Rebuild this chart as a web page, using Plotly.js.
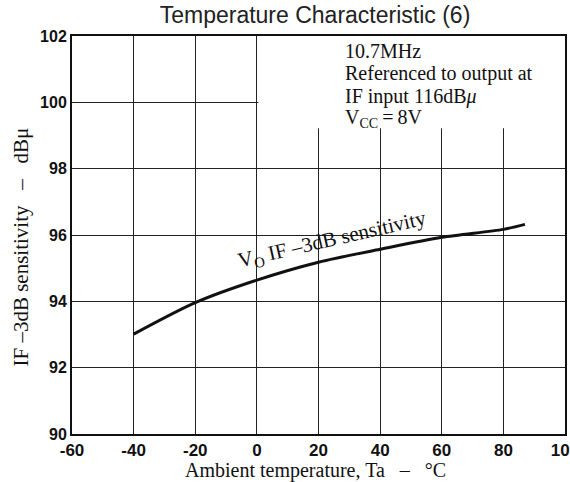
<!DOCTYPE html>
<html>
<head>
<meta charset="utf-8">
<script src="https://cdn.plot.ly/plotly-3.0.1.min.js"></script>
<style>
html,body{margin:0;padding:0;background:#fff;}
#chart{width:570px;height:482px;}
</style>
</head>
<body>
<div id="chart"></div>
<script>
// Data
const temperature = [-40, -20, 0, 20, 40, 60, 80, 87];
const sensitivity = [93.01, 93.96, 94.64, 95.18, 95.57, 95.93, 96.17, 96.32];
const xTicks = [-60, -40, -20, 0, 20, 40, 60, 80, 100];
const yTicks = [90, 92, 94, 96, 98, 100, 102];
const conditionLines = [
  "10.7MHz",
  "Referenced to output at",
  "IF input 116dB<i>μ</i>",
  "V<sub>CC</sub>\u2009=\u20098V"
];
const curveLabel = "V<sub>O</sub> IF –3dB sensitivity";
const chartTitle = "Temperature Characteristic (6)";
const xTitle = "Ambient temperature, Ta\u00a0\u00a0 –\u00a0\u00a0 °C";
const yTitle = "IF –3dB sensitivity\u00a0\u00a0 –\u00a0\u00a0 dBμ";

const serif = "Liberation Serif, Times New Roman, serif";
const tickFamily = "Liberation Sans, Arial, sans-serif";

const trace = {
  x: temperature,
  y: sensitivity,
  type: "scatter",
  mode: "lines",
  line: {color: "#111", width: 3, shape: "spline", smoothing: 0.8},
  hoverinfo: "skip"
};

const lineY = [51, 74, 96, 118];
const lineSize = [20, 20, 20, 20];
const annotations = conditionLines.map((t, i) => ({
  text: t, xref: "paper", yref: "paper",
  x: (343 - 72) / 493, y: (434 - lineY[i]) / 398,
  xanchor: "left", yanchor: "middle", showarrow: false,
  font: {family: serif, size: lineSize[i], color: "#111"}
}));
annotations.push({
  text: curveLabel, xref: "paper", yref: "paper",
  x: (332 - 72) / 493, y: (434 - 240) / 398,
  xanchor: "center", yanchor: "middle", showarrow: false, textangle: -13,
  font: {family: serif, size: 21, color: "#111"}
});
annotations.push({
  text: xTitle, xref: "paper", yref: "paper",
  x: (315.5 - 72) / 493, y: (434 - 471) / 398,
  xanchor: "center", yanchor: "middle", showarrow: false,
  font: {family: serif, size: 20, color: "#111"}
});
annotations.push({
  text: yTitle, xref: "paper", yref: "paper",
  x: (20 - 72) / 493, y: (434 - 247.5) / 398,
  xanchor: "center", yanchor: "middle", showarrow: false, textangle: -90,
  font: {family: serif, size: 21, color: "#111"}
});

const layout = {
  width: 570, height: 482,
  margin: {l: 72, r: 5, t: 36, b: 48, pad: 0},
  paper_bgcolor: "#fff", plot_bgcolor: "#fff",
  showlegend: false,
  title: {
    text: chartTitle, xref: "paper", x: (315 - 72) / 493, xanchor: "center",
    yref: "container", y: 1 - 15 / 482, yanchor: "middle",
    font: {family: "Liberation Sans, Arial, sans-serif", size: 23, color: "#222"}
  },
  xaxis: {
    range: [-60, 100], tickvals: xTicks, ticktext: xTicks.map(String),
    showgrid: true, gridcolor: "#222", gridwidth: 1,
    showline: true, linecolor: "#111", linewidth: 2, mirror: true,
    zeroline: false, ticks: "", ticklabelstandoff: 0, ticklabeloverflow: "allow",
    tickfont: {family: tickFamily, size: 17, weight: "bold", color: "#111"}
  },
  yaxis: {
    range: [90, 102], tickvals: yTicks, ticktext: yTicks.map(String),
    showgrid: true, gridcolor: "#222", gridwidth: 1,
    showline: true, linecolor: "#111", linewidth: 2, mirror: true,
    zeroline: false, ticks: "", ticklabelstandoff: 0,
    tickfont: {family: tickFamily, size: 16, weight: "bold", color: "#111"}
  },
  shapes: [{
    type: "rect", xref: "x", yref: "y",
    x0: 0.5, x1: 100, y0: 99.22, y1: 102,
    fillcolor: "#fff", line: {width: 0}, layer: "between"
  }],
  annotations: annotations
};

Plotly.newPlot("chart", [trace], layout, {displayModeBar: false, staticPlot: true});
</script>
</body>
</html>
